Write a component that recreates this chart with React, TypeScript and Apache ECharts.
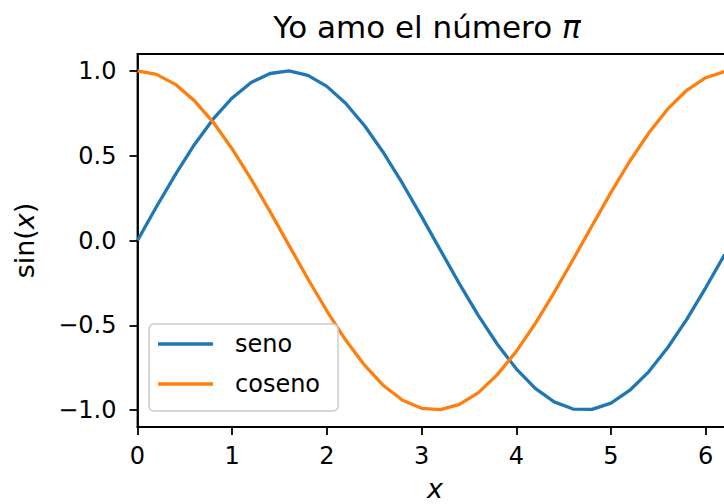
import React, { useEffect, useRef } from "react";
import * as echarts from "echarts";

const X_VALUES = [0, 0.2, 0.4, 0.6, 0.8, 1.0, 1.2, 1.4, 1.6, 1.8, 2.0, 2.2, 2.4, 2.6, 2.8, 3.0,
  3.2, 3.4, 3.6, 3.8, 4.0, 4.2, 4.4, 4.6, 4.8, 5.0, 5.2, 5.4, 5.6, 5.8, 6.0, 6.2];
const SENO = [0.0, 0.199, 0.389, 0.565, 0.717, 0.841, 0.932, 0.985, 1.0, 0.974, 0.909, 0.808,
  0.675, 0.516, 0.335, 0.141, -0.058, -0.256, -0.443, -0.612, -0.757, -0.872, -0.952, -0.994,
  -0.996, -0.959, -0.883, -0.773, -0.631, -0.465, -0.279, -0.083];
const COSENO = [1.0, 0.98, 0.921, 0.825, 0.697, 0.54, 0.362, 0.17, -0.029, -0.227, -0.416, -0.589,
  -0.737, -0.857, -0.942, -0.99, -0.998, -0.967, -0.897, -0.791, -0.654, -0.49, -0.307, -0.112,
  0.087, 0.284, 0.469, 0.635, 0.776, 0.886, 0.96, 0.997];
const X_TICKS = [0, 1, 2, 3, 4, 5, 6];
const Y_TICKS = [-1, -0.5, 0, 0.5, 1];
const Y_TICK_LABELS = ["\u22121.0", "\u22120.5", "0.0", "0.5", "1.0"];
const X_MIN = 0;
const X_MAX = 6.2832;
const Y_MIN = -1.1;
const Y_MAX = 1.1;
const SERIES_NAMES = ["seno", "coseno"];
const TITLE = "Yo amo el número {i|π}";

const FONT = "'DejaVu Sans', sans-serif";

export default function App() {
  const ref = useRef<HTMLDivElement>(null);
  useEffect(() => {
    if (!ref.current) return;
    const chart = echarts.init(ref.current, null, { renderer: "svg" });
    const pairs = (ys: number[]) => X_VALUES.map((x, i) => [x, ys[i]]);
    chart.setOption({
      animation: false,
      backgroundColor: "#ffffff",
      textStyle: { fontFamily: FONT },
      graphic: [
        {
          type: "text",
          x: 427,
          y: 27,
          style: {
            text: TITLE,
            fontFamily: FONT,
            fontSize: 31,
            fill: "#000",
            align: "center",
            verticalAlign: "middle",
            rich: {
              i: { fontFamily: FONT, fontStyle: "italic", fontSize: 31, fill: "#000" },
            },
          },
        },
      ],
      grid: {
        left: 137.5,
        top: 54,
        right: 745 - 732.5,
        bottom: 504 - 427,
        show: true,
        borderColor: "#000",
        borderWidth: 1.8,
        containLabel: false,
        outerBoundsMode: "none",
      },
      legend: {
        left: 149,
        top: 324,
        orient: "vertical",
        itemWidth: 55,
        itemHeight: 3.3,
        itemGap: 16,
        icon: "rect",
        padding: [8, 18, 15, 9],
        backgroundColor: "rgba(255,255,255,0.8)",
        borderColor: "#cccccc",
        borderWidth: 1.5,
        borderRadius: 5,
        formatter: "{a|{name}}",
        textStyle: {
          fontFamily: FONT,
          fontSize: 24,
          color: "#000",
          rich: { a: { fontFamily: FONT, fontSize: 24, color: "#000", padding: [0, 0, 0, 17] } },
        },
        data: SERIES_NAMES,
      },
      xAxis: {
        type: "value",
        min: X_MIN,
        max: X_MAX,
        position: "bottom",
        name: "x",
        nameLocation: "middle",
        nameGap: 52,
        nameTextStyle: { fontFamily: FONT, fontSize: 27, lineHeight: 18, fontStyle: "italic", color: "#000" },
        axisLine: { show: true, onZero: false, lineStyle: { color: "#000", width: 1.8 } },
        axisTick: {
          show: true,
          length: 8,
          lineStyle: { color: "#000", width: 1.8 },
          customValues: X_TICKS,
        },
        axisLabel: {
          fontFamily: FONT,
          fontSize: 24,
          color: "#000",
          margin: 17,
          customValues: X_TICKS,
          formatter: (v: number) => String(v),
        },
        splitLine: { show: false },
      },
      yAxis: {
        type: "value",
        min: Y_MIN,
        max: Y_MAX,
        position: "left",
        name: "sin({i|x})",
        nameLocation: "middle",
        nameRotate: 90,
        nameGap: 100,
        nameTextStyle: {
          fontFamily: FONT,
          fontSize: 27,
          color: "#000",
          rich: { i: { fontFamily: FONT, fontSize: 27, fontStyle: "italic", color: "#000" } },
        },
        axisLine: { show: true, onZero: false, lineStyle: { color: "#000", width: 1.8 } },
        axisTick: {
          show: true,
          length: 8,
          lineStyle: { color: "#000", width: 1.8 },
          customValues: Y_TICKS,
        },
        axisLabel: {
          fontFamily: FONT,
          fontSize: 24,
          color: "#000",
          margin: 21,
          customValues: Y_TICKS,
          formatter: (v: number) => {
            const idx = Y_TICKS.findIndex((t) => Math.abs(t - v) < 1e-9);
            return idx >= 0 ? Y_TICK_LABELS[idx] : "";
          },
        },
        splitLine: { show: false },
      },
      series: [
        {
          name: SERIES_NAMES[0],
          type: "line",
          data: pairs(SENO),
          showSymbol: false,
          symbol: "none",
          color: "#1f77b4",
          lineStyle: { color: "#1f77b4", width: 3.3 },
          clip: true,
        },
        {
          name: SERIES_NAMES[1],
          type: "line",
          data: pairs(COSENO),
          showSymbol: false,
          symbol: "none",
          color: "#ff7f0e",
          lineStyle: { color: "#ff7f0e", width: 3.3 },
          clip: true,
        },
      ],
    });
    return () => chart.dispose();
  }, []);
  return (
    <div style={{ position: "fixed", left: 0, top: 0, width: 724, height: 504, overflow: "hidden", background: "#fff" }}>
      <div ref={ref} style={{ position: "absolute", left: 0, top: 0, width: 745, height: 504 }} />
    </div>
  );
}
